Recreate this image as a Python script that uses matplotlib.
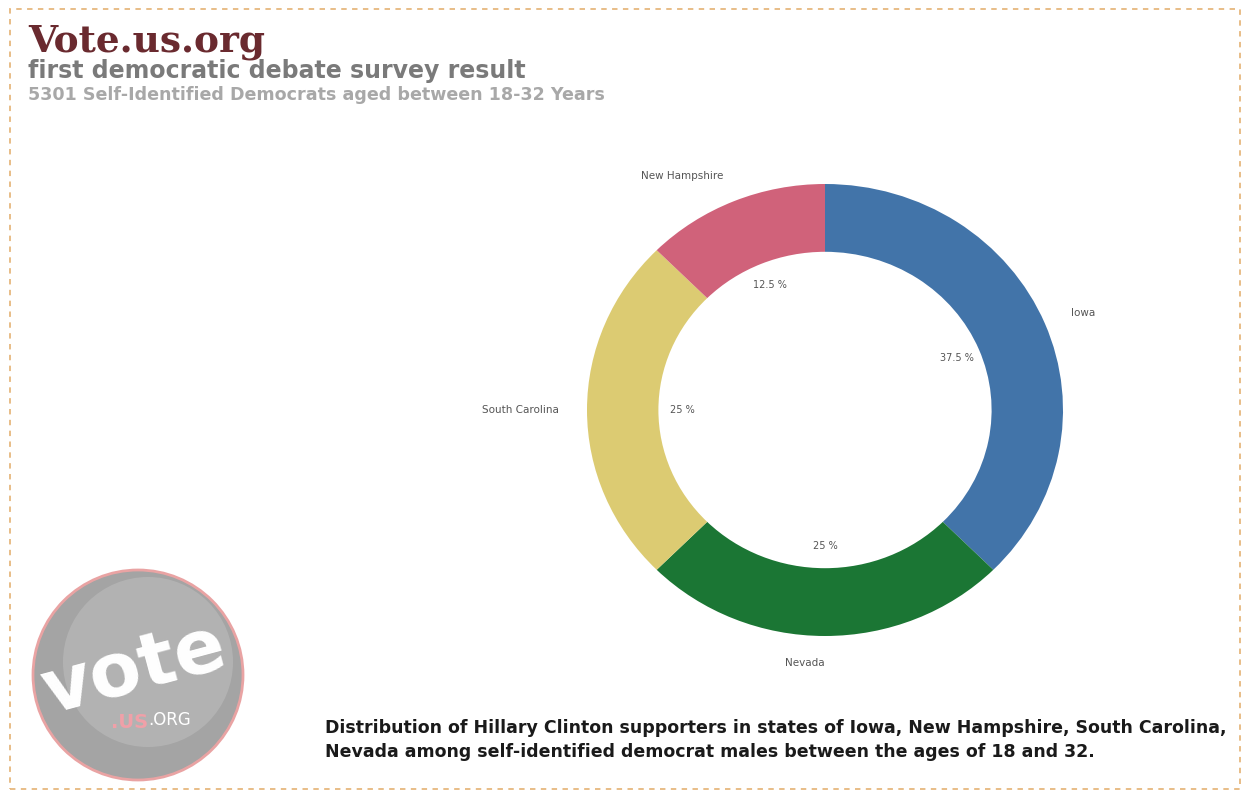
import matplotlib.pyplot as plt
from matplotlib.patches import Circle, Rectangle

states = ["Iowa", "Nevada", "South Carolina", "New Hampshire"]
shares = [37.5, 25, 25, 12.5]
colors = ["#4274a9", "#1b7634", "#dccb72", "#d0627a"]

title = "Vote.us.org"
subtitle = "first democratic debate survey result"
subsub = "5301 Self-Identified Democrats aged between 18-32 Years"
caption = ("Distribution of Hillary Clinton supporters in states of Iowa, New Hampshire, South Carolina,\n"
           "Nevada among self-identified democrat males between the ages of 18 and 32.")

W, H = 1243, 797


def pct_fmt(p):
    s = f"{p:.1f}"
    if s.endswith(".0"):
        s = s[:-2]
    return s + " %"


def main():
    fig = plt.figure(figsize=(W / 100, H / 100), dpi=100)
    fig.patch.set_facecolor("white")

    # dashed frame
    fig.patches.append(Rectangle((10 / W, 8 / H), 1230 / W, 780 / H, transform=fig.transFigure,
                                 fill=False, edgecolor="#e6b77e", linestyle=(0, (3, 3)), linewidth=1.3))

    fig.text(28 / W, 1 - 52 / H, title, fontsize=27, fontweight="bold", family="DejaVu Serif",
             color="#6a2a2f", va="baseline")
    fig.text(28 / W, 1 - 78 / H, subtitle, fontsize=17, fontweight="bold", color="#7a7a7a", va="baseline")
    fig.text(28 / W, 1 - 100 / H, subsub, fontsize=12.6, fontweight="bold", color="#a8a8a8", va="baseline")

    # donut
    cx, cy = 825, 410
    ax = fig.add_axes([(cx - 300) / W, (H - cy - 290) / H, 600 / W, 580 / H])
    wedges, texts, autotexts = ax.pie(shares, labels=states, colors=colors, startangle=90,
                                      counterclock=False, autopct=pct_fmt, pctdistance=0.6,
                                      labeldistance=1.12, radius=1,
                                      wedgeprops=dict(width=0.3, linewidth=0),
                                      textprops=dict(fontsize=7, color="#555555"))
    for t in texts:
        t.set_fontsize(7.5)
    ax.set_aspect("auto")
    ax.set_xlim(-300 / 238, 300 / 238)
    ax.set_ylim(-290 / 226, 290 / 226)

    # logo
    lax = fig.add_axes([20 / W, (H - 790) / H, 240 / W, 240 / H])
    lax.set_xlim(0, 240)
    lax.set_ylim(0, 240)
    lax.set_aspect("equal")
    lax.axis("off")
    lax.add_patch(Circle((118, 115), 105, facecolor="#a4a4a4", edgecolor="#e9a3a3", linewidth=2))
    lax.add_patch(Circle((128, 128), 85, facecolor="#c4c4c4", edgecolor="none", alpha=0.45))
    lax.text(115, 120, "vote", fontsize=54, fontweight="bold", color="white", rotation=15,
             ha="center", va="center")
    lax.text(110, 67, ".US", fontsize=14, fontweight="bold", color="#f0a0a8", ha="center", va="center")
    lax.text(150, 70, ".ORG", fontsize=12, color="white", ha="center", va="center")

    fig.text(325 / W, 1 - 740 / H, caption, fontsize=12.5, fontweight="bold", color="#1a1a1a",
             va="center", linespacing=1.45)

    fig.savefig("out.png", dpi=100)


if __name__ == "__main__":
    main()
